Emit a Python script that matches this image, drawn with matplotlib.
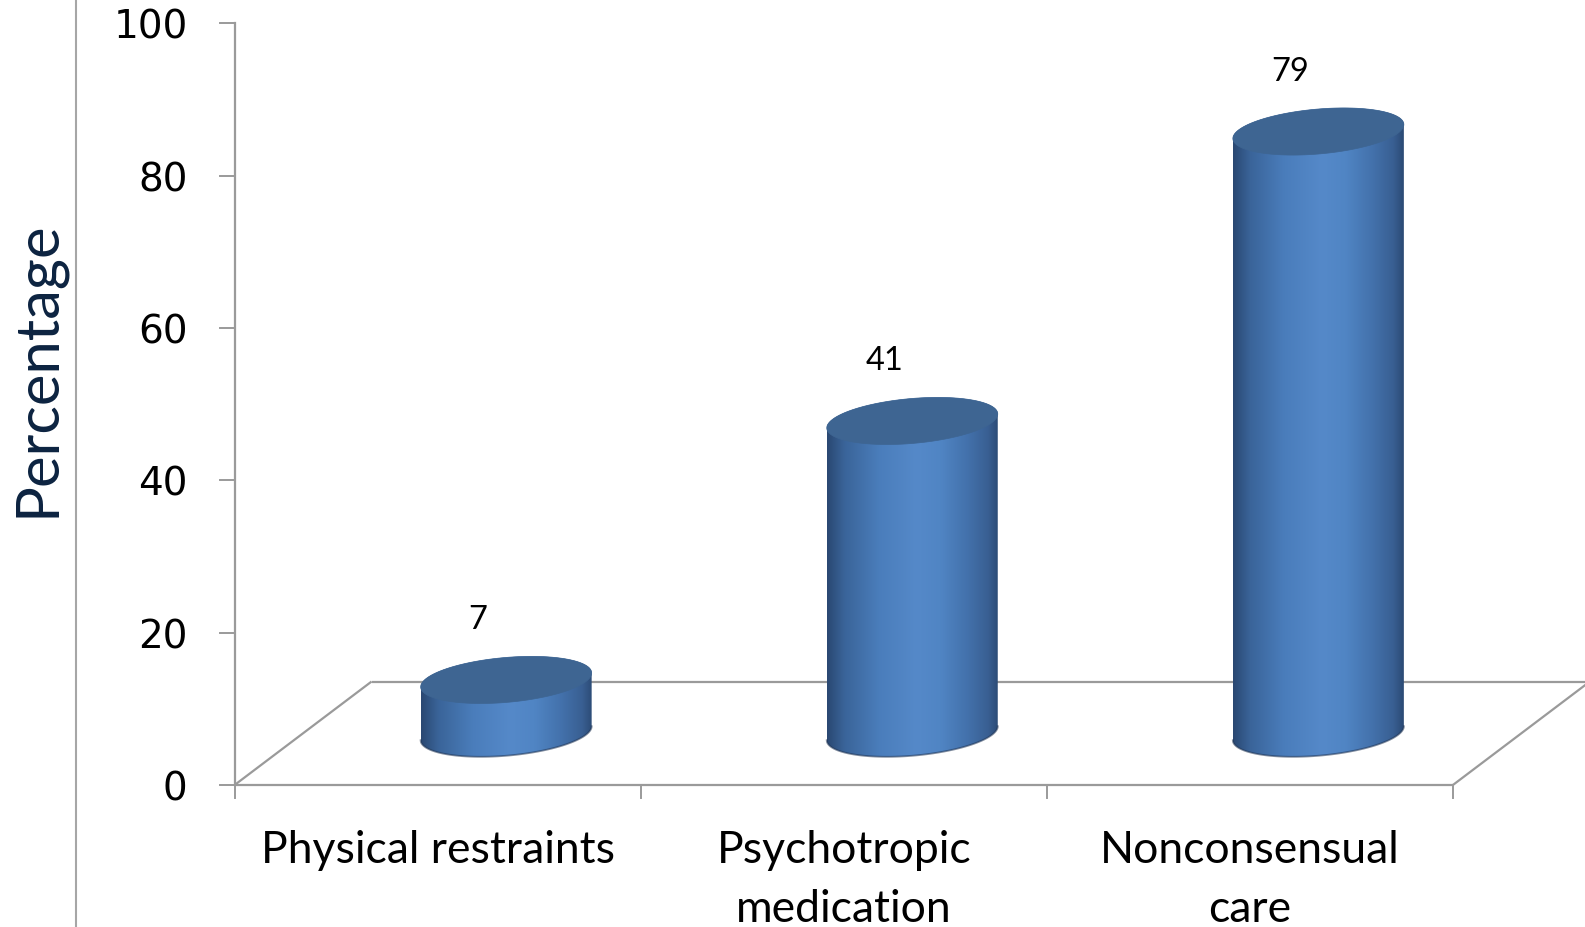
import numpy as np
import matplotlib
matplotlib.use("Agg")
import matplotlib.pyplot as plt
from matplotlib.patches import Polygon
from matplotlib.lines import Line2D
from matplotlib.colors import LinearSegmentedColormap
from matplotlib.transforms import offset_copy

# ---- data ----
categories = ["Physical restraints", "Psychotropic\nmedication", "Nonconsensual\ncare"]
values = [7, 41, 79]
y_ticks = [0, 20, 40, 60, 80, 100]
y_label = "Percentage"

# ---- layout (pixels) ----
FIG_W, FIG_H, DPI = 1585, 928, 100
FLOOR_LEFT_PX = 234.6      # front-left corner of the floor
CAT_STEP_PX = 406.1        # width of one category slot
ZERO_PX = 786.0            # row of value 0 (from top)
TOP_PX = 24.3              # row of the last tick (from top)
DEPTH_DX_PX, DEPTH_DY_PX = 137.0, 103.5
RADIUS_PX = 85.5
CAP_B_PX = 22.5
CAP_TILT_PX = 7.0

unit_y = (ZERO_PX - TOP_PX) / y_ticks[-1]
x_lo = -0.5 - FLOOR_LEFT_PX / CAT_STEP_PX
x_hi = x_lo + FIG_W / CAT_STEP_PX
y_lo = -(FIG_H - ZERO_PX) / unit_y
y_hi = ZERO_PX / unit_y

depth_x = DEPTH_DX_PX / CAT_STEP_PX
depth_y = DEPTH_DY_PX / unit_y
rad = RADIUS_PX / CAT_STEP_PX
cap_b = CAP_B_PX / unit_y
cap_k = CAP_TILT_PX / unit_y

fig = plt.figure(figsize=(FIG_W / DPI, FIG_H / DPI), dpi=DPI)
fig.patch.set_facecolor("white")
ax = fig.add_axes([0, 0, 1, 1])
ax.set_xlim(x_lo, x_hi)
ax.set_ylim(y_lo, y_hi)
ax.axis("off")

GRID = "#9a9a9a"
n = len(categories)

# floor of the 3-D plot area
fl = (-0.5, 0.0)
fr = (n - 0.5, 0.0)
br = (n - 0.5 + depth_x, depth_y)
bl = (-0.5 + depth_x, depth_y)
for (p, q) in [(bl, br), (fl, bl), (fr, br), (fl, fr)]:
    ax.plot([p[0], q[0]], [p[1], q[1]], color=GRID, lw=1.6, zorder=1,
            solid_capstyle="butt")

# value axis with ticks
ax.plot([-0.5, -0.5], [0, y_ticks[-1]], color=GRID, lw=1.6, zorder=1)
tick_len_x = 15 / CAT_STEP_PX
for t in y_ticks:
    ax.plot([-0.5 - tick_len_x, -0.5], [t, t], color=GRID, lw=1.4, zorder=1)
    ax.text(-0.5, t, str(t), ha="right", va="baseline", fontsize=28,
            family="DejaVu Sans", color="black",
            transform=offset_copy(ax.transData, fig, x=-47, y=-14.5, units="dots"))

# category ticks
tick_len_y = 13 / unit_y
for i in range(n + 1):
    ax.plot([i - 0.5, i - 0.5], [0, -tick_len_y], color=GRID, lw=1.4, zorder=1)

# category labels
for i, lab in enumerate(categories):
    for j, line in enumerate(lab.split("\n")):
        ax.text(i, 0, line, ha="center", va="baseline", fontsize=32,
                family="Lato", color="black",
                transform=offset_copy(ax.transData, fig, x=0,
                                      y=-(77 + 59.5 * j), units="dots"))

# cylinders
side_cmap = LinearSegmentedColormap.from_list("side", [
    (0.00, "#2a4872"), (0.10, "#3a6499"), (0.30, "#4a7dbb"),
    (0.52, "#5589c9"), (0.66, "#5085c4"), (0.82, "#4371ab"),
    (0.94, "#395f92"), (1.00, "#2b4a74")])
TOP_COLOR = "#3e6592"


def ellipse(cx, cy, t):
    return np.column_stack([cx + rad * np.cos(t),
                            cy + cap_b * np.sin(t) + cap_k * np.cos(t)])


for i, v in enumerate(values):
    cx = i + depth_x / 2
    cy0 = depth_y / 2
    cy1 = cy0 + v
    front = np.linspace(np.pi, 2 * np.pi, 120)
    back = np.linspace(0, np.pi, 120)
    body = np.vstack([ellipse(cx, cy0, front), ellipse(cx, cy1, back)])
    body_patch = Polygon(body, closed=True, facecolor="none",
                         edgecolor="none", zorder=2)
    ax.add_patch(body_patch)
    grad = np.linspace(0, 1, 256)[np.newaxis, :]
    im = ax.imshow(grad, cmap=side_cmap, aspect="auto", interpolation="bilinear",
                   extent=[cx - rad, cx + rad, cy0 - cap_b - cap_k, cy1 + cap_b + cap_k],
                   zorder=2)
    im.set_clip_path(body_patch)
    # soft shadow along the base
    base = ellipse(cx, cy0, front)
    ax.plot(base[:, 0], base[:, 1], color="#1d3150", lw=1.3, alpha=0.55, zorder=3)
    # top cap
    cap = ellipse(cx, cy1, np.linspace(0, 2 * np.pi, 240))
    ax.add_patch(Polygon(cap, closed=True, facecolor=TOP_COLOR,
                         edgecolor=TOP_COLOR, lw=0.5, zorder=4))
    # value label
    ax.text(cx, cy1, f"{v}", ha="center", va="baseline", fontsize=23.5,
            family="Lato", color="black", zorder=5,
            transform=offset_copy(ax.transData, fig, x=-28, y=52, units="dots"))

ax.set_xlim(x_lo, x_hi)
ax.set_ylim(y_lo, y_hi)

# axis title and separator line
fig.add_artist(Line2D([76 / FIG_W, 76 / FIG_W], [0, 1], color="#a6a6a6", lw=1.5))
fig.text(54 / FIG_W, 1 - 369 / FIG_H, y_label, rotation=90, rotation_mode="anchor",
         ha="center", va="baseline", fontsize=43, family="Lato", color="#0c2340")

fig.savefig("out.png", dpi=DPI, facecolor="white")
